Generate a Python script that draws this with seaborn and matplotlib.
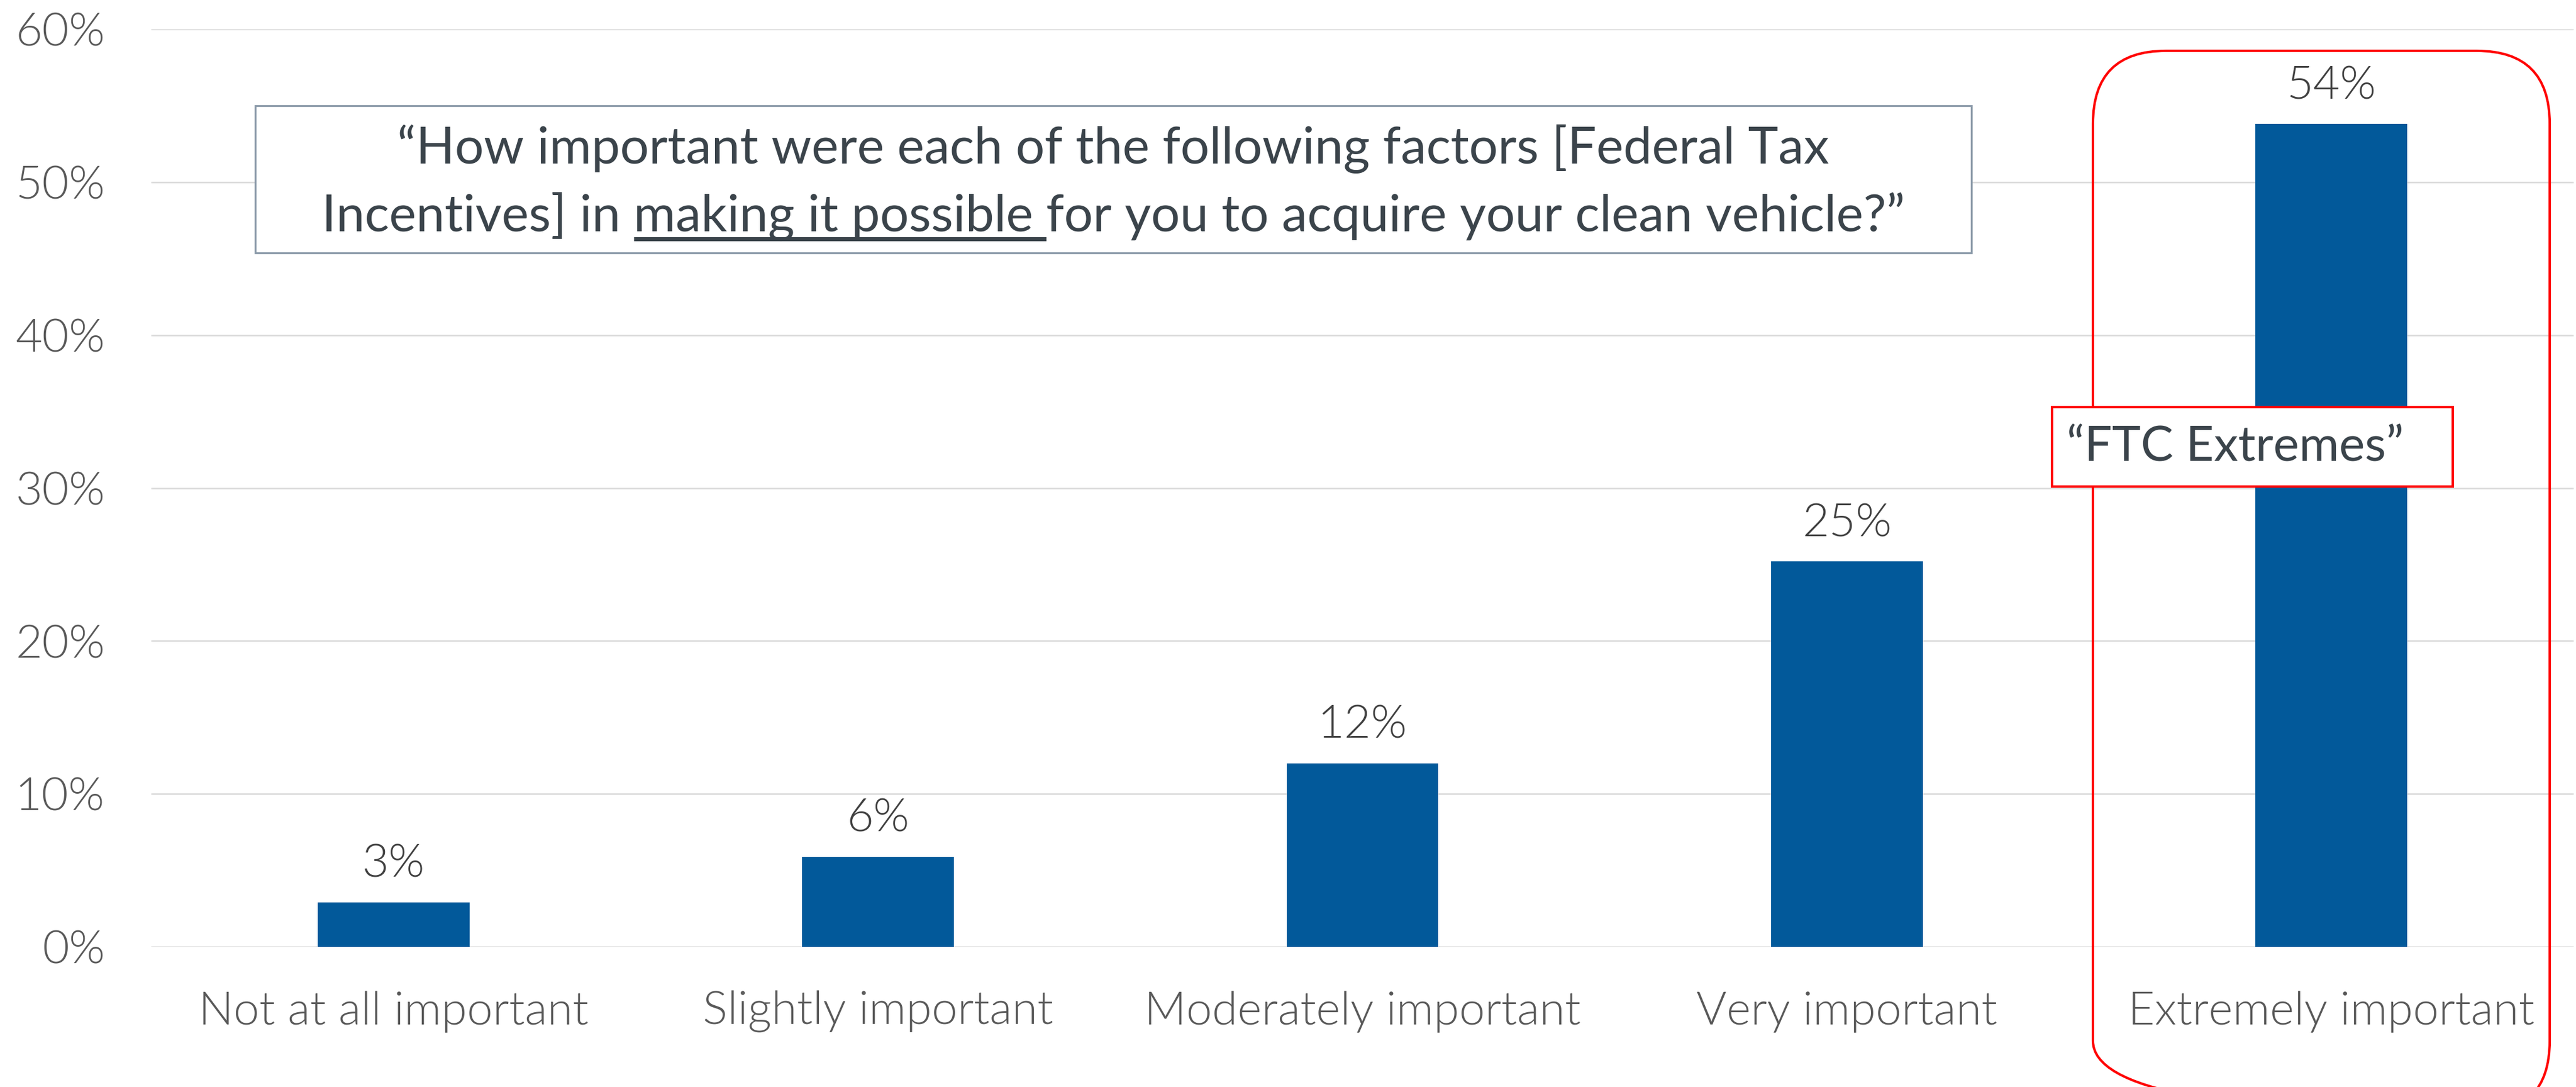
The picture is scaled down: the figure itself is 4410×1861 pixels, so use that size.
import matplotlib.pyplot as plt
import seaborn as sns
from matplotlib.patches import FancyBboxPatch, Rectangle
from matplotlib.ticker import PercentFormatter

# survey data
categories = ['Not at all important', 'Slightly important', 'Moderately important',
              'Very important', 'Extremely important']
shares = [0.029, 0.059, 0.120, 0.252, 0.538]
value_labels = [f'{v:.0%}' for v in shares]
y_ticks = [0, 0.1, 0.2, 0.3, 0.4, 0.5, 0.6]

question_line1 = '\u201cHow important were each of the following factors [Federal Tax'
question_pre = 'Incentives] in'
question_under = 'making it possible'
question_post = 'for you to acquire your clean vehicle?\u201d'
callout = '\u201cFTC Extremes\u201d'

bar_color = '#02599A'
tick_color = '#595959'
box_text_color = '#3B444B'

sns.set_style('white')
plt.rcParams['font.family'] = ['Lato', 'DejaVu Sans']
plt.rcParams['font.weight'] = 300

W, H = 4410, 1861
fig = plt.figure(figsize=(W / 300, H / 300), dpi=300)
ax = fig.add_axes([259 / W, 240 / H, (4406 - 259) / W, (1811 - 240) / H])

sns.barplot(x=categories, y=shares, color=bar_color, saturation=1, width=0.313,
            linewidth=0, ax=ax, zorder=2)
ax.set_xlim(-0.5, 4.5)
ax.set_ylim(0, 0.6)
ax.set_yticks(y_ticks)
ax.yaxis.set_major_formatter(PercentFormatter(1, decimals=0))
ax.yaxis.grid(True, color='#D9D9D9', lw=0.6, zorder=0)
ax.set_axisbelow(True)
ax.set_xlabel('')
ax.set_ylabel('')
sns.despine(ax=ax, left=True, bottom=True)
ax.tick_params(length=0, labelsize=19, labelcolor=tick_color)
ax.tick_params(axis='y', pad=19)
ax.tick_params(axis='x', pad=18)
for lab in ax.get_xticklabels() + ax.get_yticklabels():
    lab.set_fontweight(300)
ax.bar_label(ax.containers[0], labels=value_labels, padding=7, fontsize=19,
             color='#404040', fontweight=300)

# overlay in pixel coords for the annotation boxes
over = fig.add_axes([0, 0, 1, 1])
over.set_xlim(0, W)
over.set_ylim(H, 0)
over.axis('off')

over.add_patch(Rectangle((437, 181), 3375 - 437, 433 - 181, fc='white',
                         ec='#8C9BAA', lw=0.8))
q_kw = dict(fontsize=21, color=box_text_color, fontweight='normal')
cx = (437 + 3375) / 2
over.text(cx, 280, question_line1, ha='center', va='baseline', **q_kw)
line2 = over.text(cx, 396, f'{question_pre} {question_under} {question_post}',
                  ha='center', va='baseline', **q_kw)

fig.canvas.draw()
r = fig.canvas.get_renderer()


def text_width(s):
    t = over.text(0, 0, s, **q_kw)
    w = t.get_window_extent(r).width
    t.remove()
    return w


left = line2.get_window_extent(r).x0
space = text_width('a a') - text_width('aa')
u0 = left + text_width(question_pre) + space
u1 = left + text_width(f'{question_pre} {question_under}') + space
over.plot([u0, u1], [409, 409], color=box_text_color, lw=1.7, solid_capstyle='butt')

# red highlight around the last category
over.add_patch(FancyBboxPatch((3583, 87), 4365 - 3583, 1820,
                              boxstyle='round,pad=0,rounding_size=125',
                              fill=False, ec='#FF0000', lw=1.0))
over.add_patch(Rectangle((3513, 697), 4199 - 3513, 833 - 697, fc='white',
                         ec='#FF0000', lw=1.0))
over.text(3538, 766, callout, ha='left', va='center', fontsize=20,
          color=box_text_color, fontweight='normal')

fig.savefig('out.png', dpi=300)
